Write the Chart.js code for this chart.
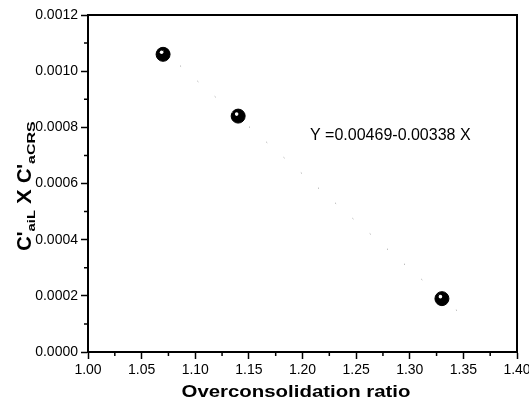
<!DOCTYPE html>
<html lang="en">
<head>
    <meta charset="UTF-8">
    <title>Overconsolidation ratio</title>
    <script src="https://cdn.jsdelivr.net/npm/chart.js"></script>
    <style>
        body { margin: 0; background: #fff; }
        #wrap { width: 529px; height: 409px; }
    </style>
</head>
<body>
<div id="wrap">
    <canvas id="myChart" width="529" height="409"></canvas>
</div>
<script>
    // measured points
    const ocr = [1.07, 1.14, 1.33];
    const product = [0.00106, 0.00084, 0.00019];

    // fitted line end points
    const fitX = [1.07, 1.35];
    const fitY = [0.001073, 0.000127];

    const xTickLabels = ['1.00', '1.05', '1.10', '1.15', '1.20', '1.25', '1.30', '1.35', '1.40'];
    const yTickLabels = ['0.0000', '0.0002', '0.0004', '0.0006', '0.0008', '0.0010', '0.0012'];

    const equation = 'Y =0.00469-0.00338 X';
    const xTitle = 'Overconsolidation ratio';

    const points = [];
    for (let i = 0; i < ocr.length; i++) {
        points.push({x: ocr[i], y: product[i]});
    }
    const fitLine = [];
    for (let i = 0; i < fitX.length; i++) {
        fitLine.push({x: fitX[i], y: fitY[i]});
    }

    const FONT = "'Liberation Sans', Arial, sans-serif";

    const framePlugin = {
        id: 'frame',
        afterDraw(chart) {
            const c = chart.ctx;
            const a = chart.chartArea;
            const xs = chart.scales.x;
            const ys = chart.scales.y;
            c.save();
            c.strokeStyle = '#000';
            c.lineWidth = 2;
            c.strokeRect(a.left, a.top, a.right - a.left, a.bottom - a.top);

            // minor ticks halfway between the major ones
            c.lineWidth = 1.5;
            c.beginPath();
            for (let i = 0; i < xs.ticks.length - 1; i++) {
                const v = (xs.ticks[i].value + xs.ticks[i + 1].value) / 2;
                const px = xs.getPixelForValue(v);
                c.moveTo(px, a.bottom);
                c.lineTo(px, a.bottom + 4);
            }
            for (let i = 0; i < ys.ticks.length - 1; i++) {
                const v = (ys.ticks[i].value + ys.ticks[i + 1].value) / 2;
                const py = ys.getPixelForValue(v);
                c.moveTo(a.left, py);
                c.lineTo(a.left - 4, py);
            }
            c.stroke();

            // highlight on the balls
            const meta = chart.getDatasetMeta(1);
            c.fillStyle = '#fff';
            meta.data.forEach(p => {
                c.beginPath();
                c.arc(p.x - 1.5, p.y - 2, 1.8, 0, Math.PI * 2);
                c.fill();
            });

            // equation
            c.fillStyle = '#000';
            c.font = '16px ' + FONT;
            c.textAlign = 'left';
            c.textBaseline = 'middle';
            c.fillText(equation, xs.getPixelForValue(1.207), ys.getPixelForValue(0.00077));

            // x axis title, a bit wide like the original
            c.save();
            c.font = 'bold 17px ' + FONT;
            c.textAlign = 'center';
            c.textBaseline = 'alphabetic';
            c.translate(296, 397);
            c.scale(1.2, 1);
            c.fillText(xTitle, 0, 0);
            c.restore();

            // y axis title with subscripts
            const segs = [
                ["C'", 'bold 20px ', 0, 1],
                ['aiL', 'bold 11px ', 7, 1.35],
                [' X ', 'bold 20px ', 0, 1.1],
                ["C'", 'bold 20px ', 0, 1],
                ['aCRS', 'bold 11px ', 7, 1.45]
            ];
            let total = 0;
            segs.forEach(s => {
                c.font = s[1] + FONT;
                total += c.measureText(s[0]).width * s[3];
            });
            c.translate(25, 186);
            c.rotate(-Math.PI / 2);
            c.textAlign = 'left';
            c.textBaseline = 'middle';
            let pos = -total / 2;
            segs.forEach(s => {
                c.font = s[1] + FONT;
                c.save();
                c.translate(pos, s[2]);
                c.scale(s[3], 1);
                c.fillText(s[0], 0, 0);
                c.restore();
                pos += c.measureText(s[0]).width * s[3];
            });
            c.restore();
        }
    };

    new Chart(document.getElementById('myChart'), {
        type: 'scatter',
        data: {
            datasets: [{
                type: 'line',
                data: fitLine,
                borderColor: '#8a8a8a',
                borderWidth: 1,
                borderDash: [1, 22],
                pointRadius: 0,
                fill: false
            }, {
                data: points,
                backgroundColor: '#000',
                borderColor: '#000',
                pointRadius: 7,
                pointHoverRadius: 7
            }]
        },
        plugins: [framePlugin],
        options: {
            responsive: false,
            animation: false,
            layout: {padding: {left: 0, right: 12, top: 15, bottom: 0}},
            plugins: {legend: {display: false}, tooltip: {enabled: false}},
            scales: {
                x: {
                    type: 'linear',
                    min: 1.0,
                    max: 1.4,
                    afterFit(scale) {
                        scale.height = 57;
                        scale.paddingRight = 0;
                        scale.paddingLeft = 0;
                    },
                    ticks: {
                        stepSize: 0.05,
                        autoSkip: false,
                        maxRotation: 0,
                        color: '#000',
                        padding: 3,
                        font: {family: FONT, size: 14},
                        callback: (v, i) => xTickLabels[i]
                    },
                    grid: {drawOnChartArea: false, tickLength: 7, tickColor: '#000', tickWidth: 1.5},
                    border: {color: '#000', width: 2}
                },
                y: {
                    min: 0,
                    max: 0.0012,
                    afterFit(scale) {
                        scale.width = 88;
                        scale.paddingTop = 0;
                        scale.paddingBottom = 0;
                    },
                    ticks: {
                        stepSize: 0.0002,
                        autoSkip: false,
                        color: '#000',
                        padding: 3,
                        font: {family: FONT, size: 14},
                        callback: (v, i) => yTickLabels[i]
                    },
                    grid: {drawOnChartArea: false, tickLength: 7, tickColor: '#000', tickWidth: 1.5},
                    border: {color: '#000', width: 2}
                }
            }
        }
    });
</script>
</body>
</html>
